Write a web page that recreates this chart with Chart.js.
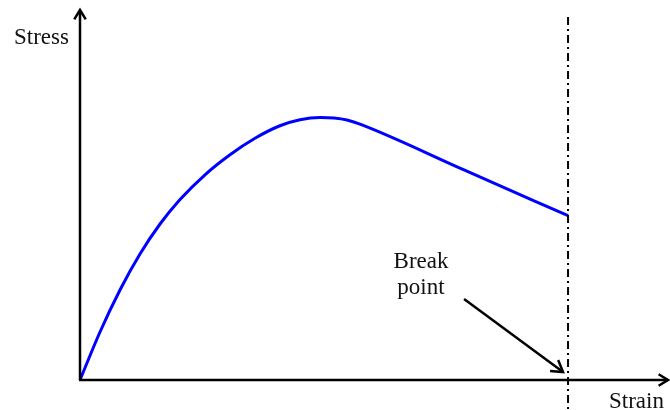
<!DOCTYPE html>
<html>
<head>
<meta charset="utf-8">
<script src="https://cdn.jsdelivr.net/npm/chart.js@4.4.0/dist/chart.umd.min.js"></script>
<style>
  html, body { margin: 0; padding: 0; background: #fff; }
  #wrap { width: 670px; height: 410px; }
</style>
</head>
<body>
<div id="wrap"><canvas id="stressChart" width="670" height="410"></canvas></div>
<script>
// curve (arbitrary units, axes 0..10)
const strain = [0, 0.340, 0.680, 1.020, 1.361, 1.701, 2.126, 2.551, 2.976, 3.401, 3.741,
                4.082, 4.320, 4.541, 4.762, 6.531, 8.30];
const stress = [0, 1.297, 2.432, 3.405, 4.216, 4.878, 5.547, 6.088, 6.534, 6.872, 7.034,
                7.095, 7.081, 7.027, 6.914, 5.676, 4.441];
const breakStrain = 8.30;
const axisLabels = ['Stress', 'Strain'];
const noteLines = ['Break', 'point'];

const points = strain.map((x, i) => ({ x: x, y: stress[i] }));

const FONT = '23px "Liberation Serif", "DejaVu Serif", serif';

function arrowHead(ctx, x, y, angle, size) {
  ctx.beginPath();
  ctx.moveTo(x - size * Math.cos(angle - 0.55), y - size * Math.sin(angle - 0.55));
  ctx.lineTo(x, y);
  ctx.lineTo(x - size * Math.cos(angle + 0.55), y - size * Math.sin(angle + 0.55));
  ctx.stroke();
}

const decorations = {
  id: 'decorations',
  afterDatasetsDraw(chart) {
    const ctx = chart.ctx;
    const xs = chart.scales.x, ys = chart.scales.y;
    const x0 = xs.getPixelForValue(0);
    const y0 = ys.getPixelForValue(0);
    const bx = xs.getPixelForValue(breakStrain);

    ctx.save();
    ctx.strokeStyle = '#000';
    ctx.lineCap = 'butt';

    // dash-dot break line
    ctx.lineWidth = 2;
    ctx.setLineDash([8, 4, 2, 4]);
    ctx.beginPath();
    ctx.moveTo(bx, 17);
    ctx.lineTo(bx, 410);
    ctx.stroke();
    ctx.setLineDash([]);

    // axes
    ctx.lineWidth = 2.5;
    ctx.beginPath();
    ctx.moveTo(x0, y0);
    ctx.lineTo(x0, 10);
    ctx.moveTo(x0 - 1, y0);
    ctx.lineTo(668, y0);
    ctx.stroke();
    ctx.lineJoin = 'miter';
    arrowHead(ctx, x0, 10, -Math.PI / 2, 11);
    arrowHead(ctx, 668, y0, 0, 11);

    // break point pointer
    const ax = bx - 104, ay = 299, tx = bx - 5, ty = 372;
    ctx.beginPath();
    ctx.moveTo(ax, ay);
    ctx.lineTo(tx, ty);
    ctx.stroke();
    arrowHead(ctx, tx, ty, Math.atan2(ty - ay, tx - ax), 13);

    // texts
    ctx.fillStyle = '#111';
    ctx.font = FONT;
    ctx.textBaseline = 'alphabetic';
    ctx.textAlign = 'left';
    ctx.fillText(axisLabels[0], 14, 44);
    ctx.fillText(axisLabels[1], 609, 408);
    ctx.textAlign = 'center';
    ctx.fillText(noteLines[0], 421, 268);
    ctx.fillText(noteLines[1], 421, 294);
    ctx.restore();
  }
};

new Chart(document.getElementById('stressChart'), {
  type: 'line',
  data: {
    datasets: [{
      data: points,
      borderColor: '#0000ff',
      borderWidth: 3,
      pointRadius: 0,
      fill: false,
      cubicInterpolationMode: 'monotone',
      clip: false
    }]
  },
  options: {
    responsive: false,
    animation: false,
    layout: { padding: { left: 80, right: 2, top: 10, bottom: 30 } },
    scales: {
      x: { type: 'linear', min: 0, max: 10, display: false },
      y: { type: 'linear', min: 0, max: 10, display: false }
    },
    plugins: { legend: { display: false }, tooltip: { enabled: false } }
  },
  plugins: [decorations]
});
</script>
</body>
</html>
